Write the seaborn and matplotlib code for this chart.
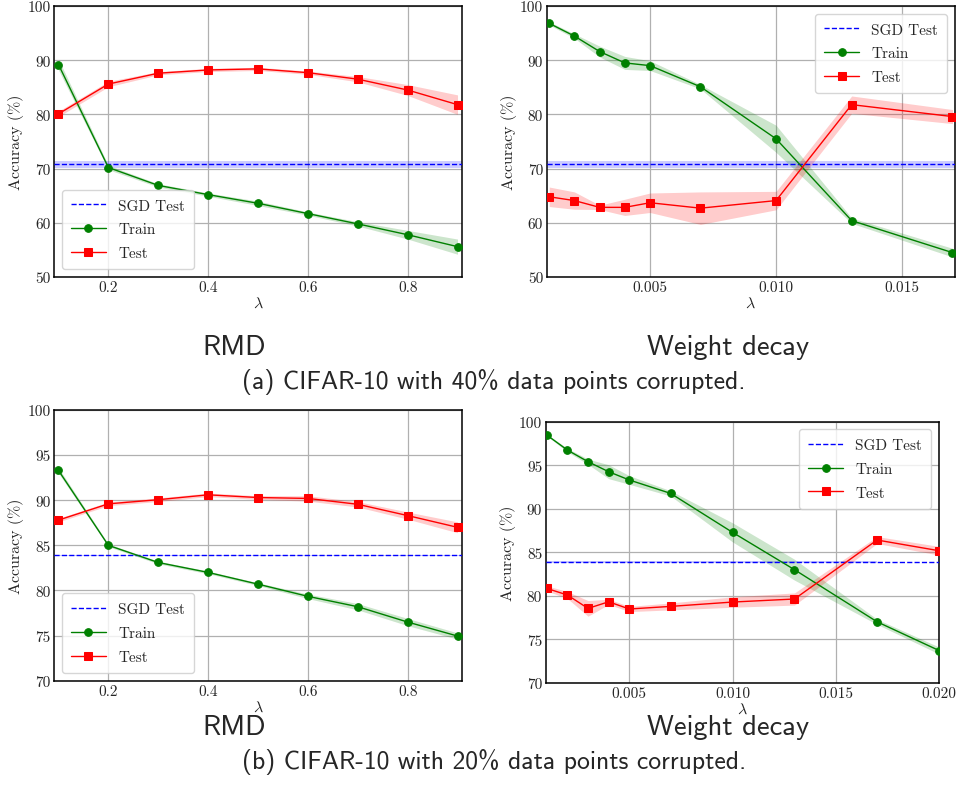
import numpy as np
import pandas as pd
import matplotlib
matplotlib.use("Agg")
import matplotlib.pyplot as plt
import seaborn as sns

# ---------------- data ----------------
rmd_x = [0.1, 0.2, 0.3, 0.4, 0.5, 0.6, 0.7, 0.8, 0.9]
rmd_xticks = [0.2, 0.4, 0.6, 0.8]

# (a) 40% corrupted, RMD
rmd40_train = [89.2, 70.2, 66.9, 65.2, 63.6, 61.7, 59.8, 57.8, 55.6]
rmd40_train_sd = [1.0, 0.4, 0.3, 0.3, 0.4, 0.3, 0.4, 0.8, 1.4]
rmd40_test = [80.1, 85.6, 87.6, 88.2, 88.4, 87.7, 86.5, 84.5, 81.8]
rmd40_test_sd = [0.5, 0.5, 0.3, 0.3, 0.3, 0.3, 0.5, 1.0, 1.8]

# (a) 40% corrupted, weight decay
wd40_x = [0.001, 0.002, 0.003, 0.004, 0.005, 0.007, 0.010, 0.013, 0.017]
wd40_xticks = [0.005, 0.010, 0.015]
wd40_train = [96.8, 94.45, 91.6, 89.5, 89.0, 85.1, 75.5, 60.4, 54.5]
wd40_train_sd = [0.3, 0.4, 1.0, 1.2, 0.9, 0.4, 2.5, 0.5, 0.8]
wd40_test = [64.8, 64.1, 62.85, 62.85, 63.7, 62.7, 64.1, 81.8, 79.6]
wd40_test_sd = [1.8, 1.6, 0.4, 1.5, 1.8, 3.0, 1.7, 1.6, 1.3]

sgd40 = 70.8
sgd40_sd = 0.6

# (b) 20% corrupted, RMD
rmd20_train = [93.3, 85.0, 83.1, 82.0, 80.7, 79.35, 78.2, 76.5, 74.95]
rmd20_train_sd = [0.3, 0.15, 0.15, 0.15, 0.15, 0.25, 0.35, 0.4, 0.35]
rmd20_test = [87.8, 89.6, 90.06, 90.6, 90.3, 90.2, 89.55, 88.3, 87.0]
rmd20_test_sd = [0.2, 0.2, 0.2, 0.2, 0.2, 0.3, 0.3, 0.4, 0.6]

# (b) 20% corrupted, weight decay
wd20_x = [0.001, 0.002, 0.003, 0.004, 0.005, 0.007, 0.010, 0.013, 0.017, 0.020]
wd20_xticks = [0.005, 0.010, 0.015, 0.020]
wd20_train = [98.47, 96.74, 95.4, 94.25, 93.3, 91.76, 87.28, 82.99, 77.0, 73.7]
wd20_train_sd = [0.1, 0.2, 0.3, 0.8, 0.5, 0.3, 1.1, 1.2, 0.3, 0.4]
wd20_test = [80.84, 80.08, 78.54, 79.3, 78.47, 78.77, 79.27, 79.62, 86.4, 85.17]
wd20_test_sd = [0.3, 0.4, 0.9, 0.3, 0.3, 0.4, 0.6, 0.7, 0.4, 0.5]

sgd20 = 83.88
sgd20_sd = 0.1

panel_titles = ["RMD", "Weight decay"]
captions = ["(a) CIFAR-10 with 40% data points corrupted.",
            "(b) CIFAR-10 with 20% data points corrupted."]

# ---------------- style ----------------
sns.set_style("whitegrid", {"axes.edgecolor": "black", "grid.color": "#b0b0b0",
                            "axes.linewidth": 1.1})
plt.rcParams["font.family"] = ["cmr10", "DejaVu Serif"]
plt.rcParams["mathtext.fontset"] = "cm"
plt.rcParams["axes.unicode_minus"] = False

W, H = 956, 803
fig = plt.figure(figsize=(W / 100, H / 100), dpi=100)


def add_ax(left, top, right, bottom):
    return fig.add_axes([left / W, 1 - bottom / H, (right - left) / W, (bottom - top) / H])


def panel(ax, x, train, train_sd, test, test_sd, sgd, sgd_sd, sgd_span,
          xlim, xticks, xfmt, ylim, yticks, legend_loc):
    x = np.asarray(x)
    train, train_sd = np.asarray(train), np.asarray(train_sd)
    test, test_sd = np.asarray(test), np.asarray(test_sd)
    ax.axhline(sgd, color="blue", ls="--", lw=1.0, label="SGD Test", zorder=3)
    ax.fill_between(sgd_span, [sgd - sgd_sd] * 2, [sgd + sgd_sd] * 2,
                    color="blue", alpha=0.2, lw=0, zorder=2)
    sns.lineplot(x=x, y=train, color="green", marker="o", markersize=5.5,
                 mec="green", lw=1.0, label="Train", ax=ax, zorder=4)
    ax.fill_between(x, train - train_sd, train + train_sd, color="green",
                    alpha=0.2, lw=0, zorder=2)
    sns.lineplot(x=x, y=test, color="red", marker="s", markersize=5.5,
                 mec="red", lw=1.0, label="Test", ax=ax, zorder=4)
    ax.fill_between(x, test - test_sd, test + test_sd, color="red",
                    alpha=0.2, lw=0, zorder=2)
    ax.set_xlim(*xlim)
    ax.set_ylim(*ylim)
    ax.set_xticks(xticks)
    ax.set_xticklabels([xfmt.format(v) for v in xticks])
    ax.set_yticks(yticks)
    ax.set_yticklabels([str(v) for v in yticks])
    ax.tick_params(labelsize=11, pad=2.5, length=0)
    ax.set_xlabel(r"$\lambda$", fontsize=11.5, labelpad=1)
    ax.set_ylabel("Accuracy (%)", fontsize=11.5, labelpad=2)
    ax.grid(True, color="#b0b0b0", lw=0.9)
    for s in ax.spines.values():
        s.set_color("black")
        s.set_linewidth(1.1)
    ax.legend(loc=legend_loc, fontsize=11, handlelength=2.3, framealpha=0.8,
              edgecolor="#cccccc", labelspacing=0.66, borderpad=0.6)


rmd_xlim = (0.091, 0.909)
wd40_xlim = (0.0009, 0.0171)
wd20_xlim = (0.00095, 0.0200)

ax1 = add_ax(54, 7, 462, 278)
panel(ax1, rmd_x, rmd40_train, rmd40_train_sd, rmd40_test, rmd40_test_sd,
      sgd40, sgd40_sd, rmd_xlim, rmd_xlim, rmd_xticks, "{:.1f}",
      (50, 100), [50, 60, 70, 80, 90, 100], "lower left")

ax2 = add_ax(546.7, 7, 955, 278)
panel(ax2, wd40_x, wd40_train, wd40_train_sd, wd40_test, wd40_test_sd,
      sgd40, sgd40_sd, wd40_xlim, wd40_xlim, wd40_xticks, "{:.3f}",
      (50, 100), [50, 60, 70, 80, 90, 100], "upper right")

ax3 = add_ax(54, 411, 462, 681.7)
panel(ax3, rmd_x, rmd20_train, rmd20_train_sd, rmd20_test, rmd20_test_sd,
      sgd20, sgd20_sd, rmd_xlim, rmd_xlim, rmd_xticks, "{:.1f}",
      (70, 100), [70, 75, 80, 85, 90, 95, 100], "lower left")

ax4 = add_ax(545.7, 422.7, 939, 683.7)
panel(ax4, wd20_x, wd20_train, wd20_train_sd, wd20_test, wd20_test_sd,
      sgd20, sgd20_sd, (wd20_x[0], wd20_x[-2]), wd20_xlim, wd20_xticks, "{:.3f}",
      (70, 100), [70, 75, 80, 85, 90, 95, 100], "upper right")

# captions (sans-serif, LaTeX-like)
cap_font = ["cmss10", "DejaVu Sans"]
for ytitle, ycap, cap in [(348, 382, captions[0]), (728, 762, captions[1])]:
    fig.text(234 / W, 1 - ytitle / H, panel_titles[0], ha="center", va="center",
             fontsize=20.5, family=cap_font)
    fig.text(728 / W, 1 - ytitle / H, panel_titles[1], ha="center", va="center",
             fontsize=20.5, family=cap_font)
    fig.text(494 / W, 1 - ycap / H, cap, ha="center", va="center",
             fontsize=18.5, family=cap_font)

fig.savefig("out.png", dpi=100)
